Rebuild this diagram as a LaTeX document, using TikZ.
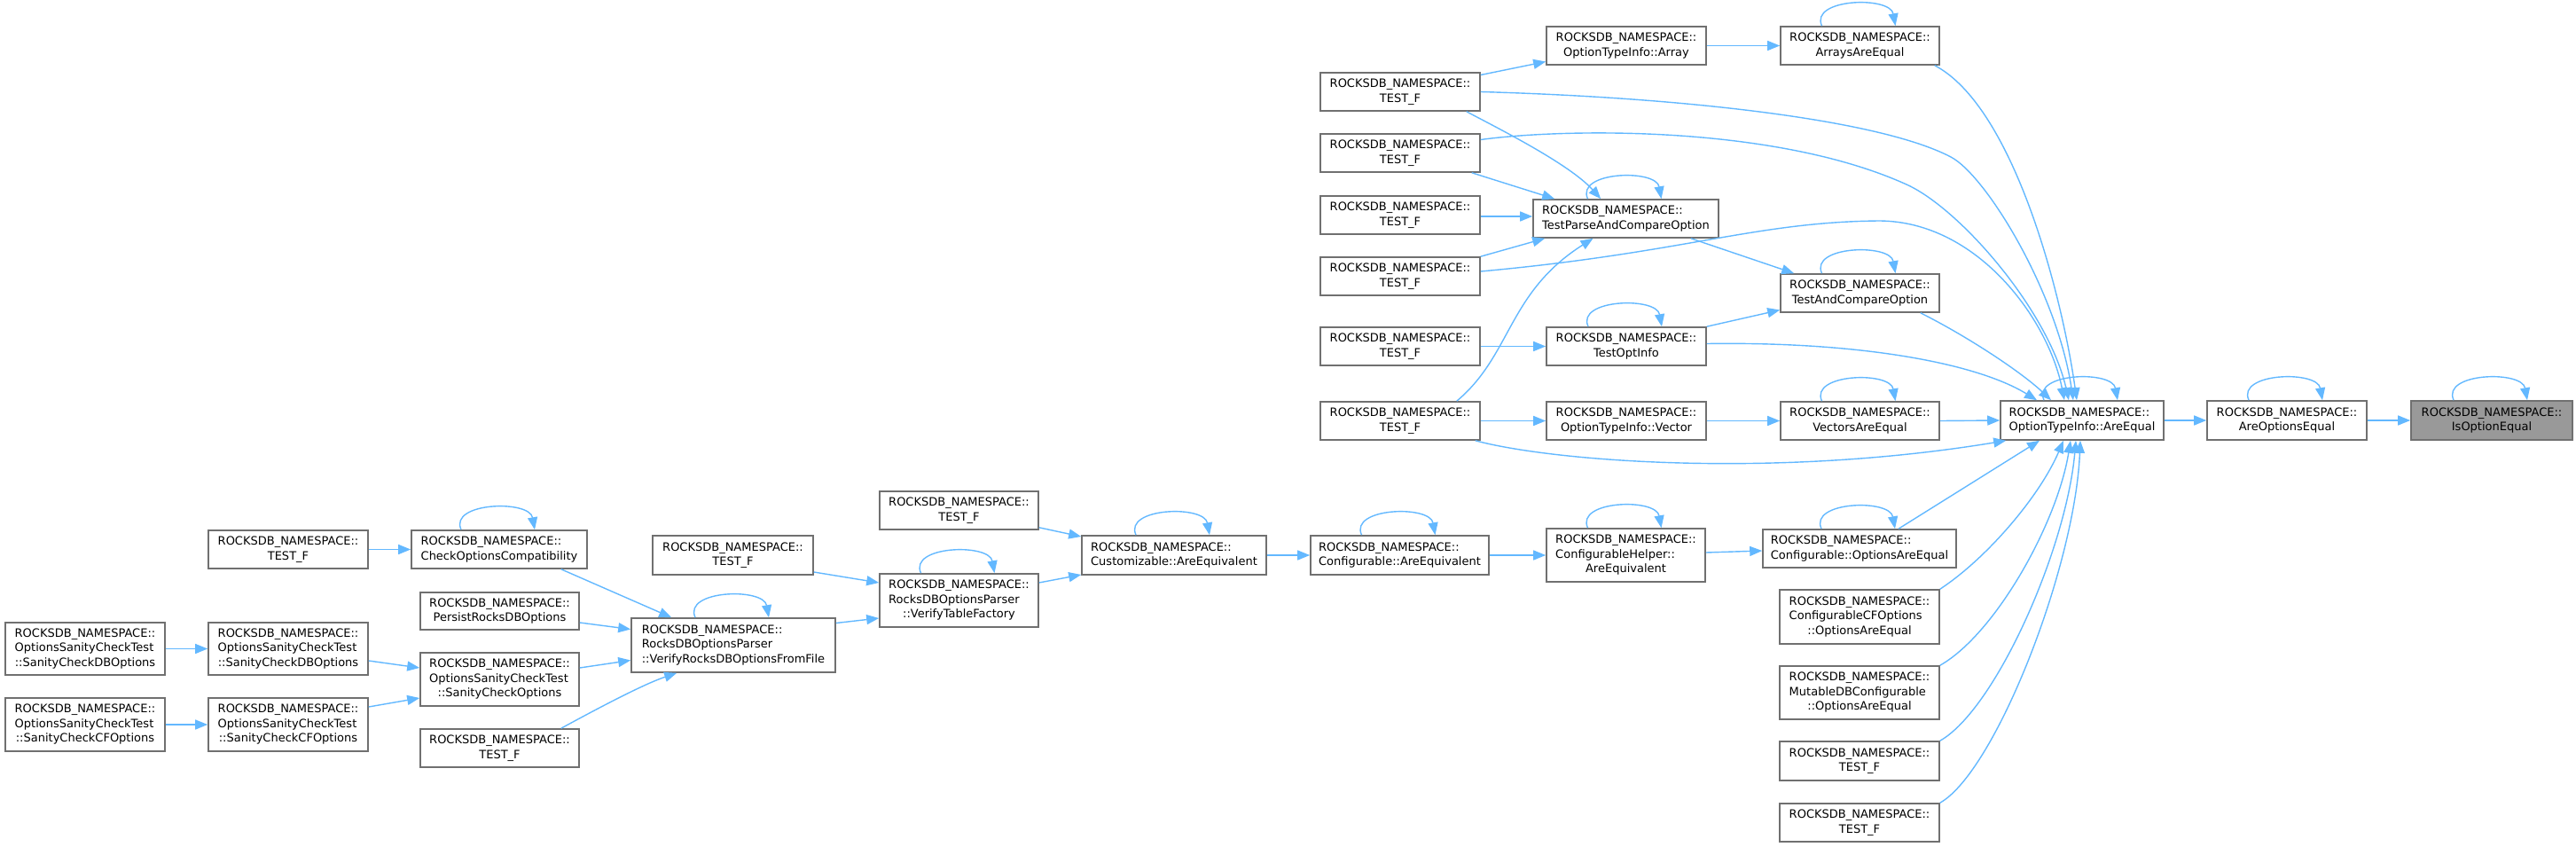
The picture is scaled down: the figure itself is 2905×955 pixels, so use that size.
\documentclass[tikz,border=0pt]{standalone}
\usepackage{fontspec}
\setmainfont{DejaVu Sans}
\usetikzlibrary{arrows.meta,calc}
\definecolor{edgec}{HTML}{63B8FF}
\definecolor{bordc}{HTML}{707070}
\definecolor{hilite}{HTML}{999999}
\newcommand\NS{ROCKSDB\_NAMESPACE::}
\newcommand\lbb[2]{\begin{tabular}{@{}l@{}}#1\\\multicolumn{1}{@{}c@{}}{#2}\end{tabular}}
\newcommand\lbc[3]{\begin{tabular}{@{}l@{}}#1\\#2\\\multicolumn{1}{@{}c@{}}{#3}\end{tabular}}
\newcommand\bx[7][]{\node[box,#1,minimum width={(#4)-(#3)-2},minimum height={(#6)-(#5)-2}] (#2) at ({((#3)+(#4))/2},{((#5)+(#6))/2}) {#7};}
\newcommand\selfloop[1]{\draw[e] ([shift={(-43,0)}]#1.north) .. controls +(-14,-31) and +(-6,-34) .. ([shift={(40,0)}]#1.north);}
\tikzset{
  box/.style={draw=bordc,line width=1.6pt,fill=white,inner sep=0pt,font=\fontsize{13}{16.5}\selectfont},
  e/.style={draw=edgec,line width=1.4pt,-{Triangle[length=14pt,width=11pt]}}
}
\begin{document}
\begin{tikzpicture}[x=1pt,y=-1pt]
\useasboundingbox (0,0) rectangle (2905,955);
% right part
\bx[fill=hilite]{isopt}{2718}{2902}{451}{497}{\lbb{\NS}{IsOptionEqual}}
\bx{areopts}{2488}{2670}{451}{497}{\lbb{\NS}{AreOptionsEqual}}
\bx{areequal}{2255}{2441}{451}{497}{\lbb{\NS}{OptionTypeInfo::AreEqual}}
\bx{arrays}{2007}{2188}{29}{74}{\lbb{\NS}{ArraysAreEqual}}
\bx{tac}{2007}{2188}{308}{353}{\lbb{\NS}{TestAndCompareOption}}
\bx{vectors}{2007}{2188}{452}{497}{\lbb{\NS}{VectorsAreEqual}}
\bx{cfgopts}{1987}{2207}{596}{641}{\lbb{\NS}{Configurable::OptionsAreEqual}}
\bx{cfcfg}{2006}{2188}{664}{727}{\lbc{\NS}{ConfigurableCFOptions}{::OptionsAreEqual}}
\bx{mutdb}{2006}{2188}{750}{812}{\lbc{\NS}{MutableDBConfigurable}{::OptionsAreEqual}}
\bx{tra}{2006}{2188}{835}{881}{\lbb{\NS}{TEST\_F}}
\bx{trb}{2006}{2188}{905}{950}{\lbb{\NS}{TEST\_F}}
\bx{array}{1743}{1925}{29}{74}{\lbb{\NS}{OptionTypeInfo::Array}}
\bx{tpac}{1728}{1939}{224}{269}{\lbb{\NS}{TestParseAndCompareOption}}
\bx{toi}{1743}{1925}{368}{413}{\lbb{\NS}{TestOptInfo}}
\bx{vector}{1743}{1925}{452}{497}{\lbb{\NS}{OptionTypeInfo::Vector}}
\bx{cfghelper}{1743}{1924}{595}{657}{\lbc{\NS}{ConfigurableHelper::}{AreEquivalent}}
\bx{ta}{1488}{1670}{81}{126}{\lbb{\NS}{TEST\_F}}
\bx{tb}{1488}{1670}{150}{195}{\lbb{\NS}{TEST\_F}}
\bx{tcc}{1488}{1670}{220}{265}{\lbb{\NS}{TEST\_F}}
\bx{td}{1488}{1670}{289}{334}{\lbb{\NS}{TEST\_F}}
\bx{te}{1488}{1670}{368}{413}{\lbb{\NS}{TEST\_F}}
\bx{tf}{1488}{1670}{452}{497}{\lbb{\NS}{TEST\_F}}
% lower left
\bx{cfgequiv}{1477}{1680}{603}{649}{\lbb{\NS}{Configurable::AreEquivalent}}
\bx{custequiv}{1219}{1429}{603}{649}{\lbb{\NS}{Customizable::AreEquivalent}}
\bx{tcust}{991}{1172}{553}{598}{\lbb{\NS}{TEST\_F}}
\bx{vtf}{991}{1172}{646}{708}{\lbc{\NS}{RocksDBOptionsParser}{::VerifyTableFactory}}
\bx{tv}{735}{918}{603}{649}{\lbb{\NS}{TEST\_F}}
\bx{vrdb}{711}{943}{696}{759}{\lbc{\NS}{RocksDBOptionsParser}{::VerifyRocksDBOptionsFromFile}}
\bx{coc}{463}{663}{597}{642}{\lbb{\NS}{CheckOptionsCompatibility}}
\bx{persist}{473}{654}{667}{711}{\lbb{\NS}{PersistRocksDBOptions}}
\bx{sco}{473}{654}{735}{797}{\lbc{\NS}{OptionsSanityCheckTest}{::SanityCheckOptions}}
\bx{tbot}{473}{654}{821}{866}{\lbb{\NS}{TEST\_F}}
\bx{tcoc}{234}{416}{597}{642}{\lbb{\NS}{TEST\_F}}
\bx{mdb}{234}{416}{701}{762}{\lbc{\NS}{OptionsSanityCheckTest}{::SanityCheckDBOptions}}
\bx{mcf}{234}{416}{786}{848}{\lbc{\NS}{OptionsSanityCheckTest}{::SanityCheckCFOptions}}
\bx{ldb}{5}{187}{701}{762}{\lbc{\NS}{OptionsSanityCheckTest}{::SanityCheckDBOptions}}
\bx{lcf}{5}{187}{786}{848}{\lbc{\NS}{OptionsSanityCheckTest}{::SanityCheckCFOptions}}
% straight edges
\draw[e] (areopts.east) -- (isopt.west);
\draw[e] (areequal.east) -- (areopts.west);
\draw[e] (vectors.east) -- (areequal.west);
\draw[e] (vector.east) -- (vectors.west);
\draw[e] (tf.east) -- (vector.west);
\draw[e] (array.east) -- (arrays.west);
\draw[e] ([shift={(0,-19)}]ta.east) -- ([shift={(0,18)}]array.west);
\draw[e] (te.east) -- (toi.west);
\draw[e] ([shift={(0,1.5)}]tcc.east) -- ([shift={(0,-2.5)}]tpac.west);
\draw[e] ([shift={(-10,0)}]tb.south east) -- ([shift={(25,0)}]tpac.north west);
\draw[e] (td.north east) -- ([shift={(14,0)}]tpac.south west);
\draw[e] ([shift={(-16,0)}]ta.south east) .. controls (1690,145) and (1770,185) .. ([shift={(77,0)}]tpac.north west);
\draw[e] ([shift={(-27,0)}]tf.north east) .. controls (1705,400) and (1700,330) .. ([shift={(-37,0)}]tpac.south);
\draw[e] ([shift={(-32,0)}]tpac.south east) -- ([shift={(16,0)}]tac.north west);
\draw[e] (toi.north east) -- ([shift={(0,19)}]tac.west);
% curves into AreEqual from above
\draw[e] ([shift={(0,-3)}]toi.east) .. controls (2100,385) and (2230,410) .. ([shift={(-51,0)}]areequal.north);
\draw[e] ([shift={(-22,0)}]tac.south east) .. controls (2220,380) and (2280,420) .. ([shift={(-35,0)}]areequal.north);
\draw[e] ([shift={(-6,0)}]arrays.south east) .. controls (2270,120) and (2325,330) .. ([shift={(-6,0)}]areequal.north);
\draw[e] (ta.east) .. controls (1900,110) and (2120,135) .. (2200,177) .. controls (2240,198) and (2320,330) .. ([shift={(-10,0)}]areequal.north);
\draw[e] ([shift={(0,-15)}]tb.east) .. controls (1760,145) and (2000,140) .. (2150,208) .. controls (2210,235) and (2310,350) .. ([shift={(-15,0)}]areequal.north);
\draw[e] ([shift={(0,-5.5)}]td.east) .. controls (1900,285) and (1980,250) .. (2120,249) .. controls (2230,250) and (2310,360) .. ([shift={(-20,0)}]areequal.north);
% curves into AreEqual from below
\draw[e] ([shift={(-6,0)}]tf.south east) .. controls (1750,520) and (2000,540) .. ([shift={(7,0)}]areequal.south west);
\draw[e] ([shift={(44,0)}]cfgopts.north) -- ([shift={(-48,0)}]areequal.south);
\draw[e] (cfcfg.north east) .. controls (2240,630) and (2300,560) .. ([shift={(-21,0)}]areequal.south);
\draw[e] (mutdb.north east) .. controls (2250,715) and (2320,590) .. ([shift={(-13,0)}]areequal.south);
\draw[e] (tra.north east) .. controls (2250,800) and (2330,620) .. ([shift={(-7,0)}]areequal.south);
\draw[e] (trb.north east) .. controls (2250,870) and (2340,640) .. ([shift={(-2,0)}]areequal.south);
% lower chain
\draw[e] ([shift={(0,-3)}]cfghelper.east) -- ([shift={(0,2.5)}]cfgopts.west);
\draw[e] (cfgequiv.east) -- (cfghelper.west);
\draw[e] (custequiv.east) -- (cfgequiv.west);
\draw[e] ([shift={(0,-3)}]tcust.south east) -- ([shift={(0,-21)}]custequiv.west);
\draw[e] ([shift={(0,-20)}]vtf.east) -- ([shift={(0,22)}]custequiv.west);
\draw[e] ([shift={(0,19)}]tv.east) -- ([shift={(0,-20)}]vtf.west);
\draw[e] ([shift={(0,-25)}]vrdb.east) -- ([shift={(0,20)}]vtf.west);
\draw[e] ([shift={(-30,0)}]coc.south east) -- ([shift={(46,0)}]vrdb.north west);
\draw[e] ([shift={(0,13)}]persist.east) -- ([shift={(0,-18)}]vrdb.west);
\draw[e] ([shift={(0,-13)}]sco.east) -- ([shift={(0,17)}]vrdb.west);
\draw[e] ([shift={(-21,0)}]tbot.north east) .. controls (690,790) and (730,770) .. ([shift={(52,0)}]vrdb.south west);
\draw[e] (tcoc.east) -- (coc.west);
\draw[e] ([shift={(0,13.5)}]mdb.east) -- ([shift={(0,-13)}]sco.west);
\draw[e] ([shift={(0,-20)}]mcf.east) -- ([shift={(0,21)}]sco.west);
\draw[e] (ldb.east) -- (mdb.west);
\draw[e] (lcf.east) -- (mcf.west);
% self loops
\selfloop{isopt}
\selfloop{areopts}
\selfloop{areequal}
\selfloop{arrays}
\selfloop{tpac}
\selfloop{tac}
\selfloop{toi}
\selfloop{vectors}
\selfloop{cfgopts}
\selfloop{cfghelper}
\selfloop{cfgequiv}
\selfloop{custequiv}
\selfloop{vtf}
\selfloop{vrdb}
\selfloop{coc}
\end{tikzpicture}
\end{document}
